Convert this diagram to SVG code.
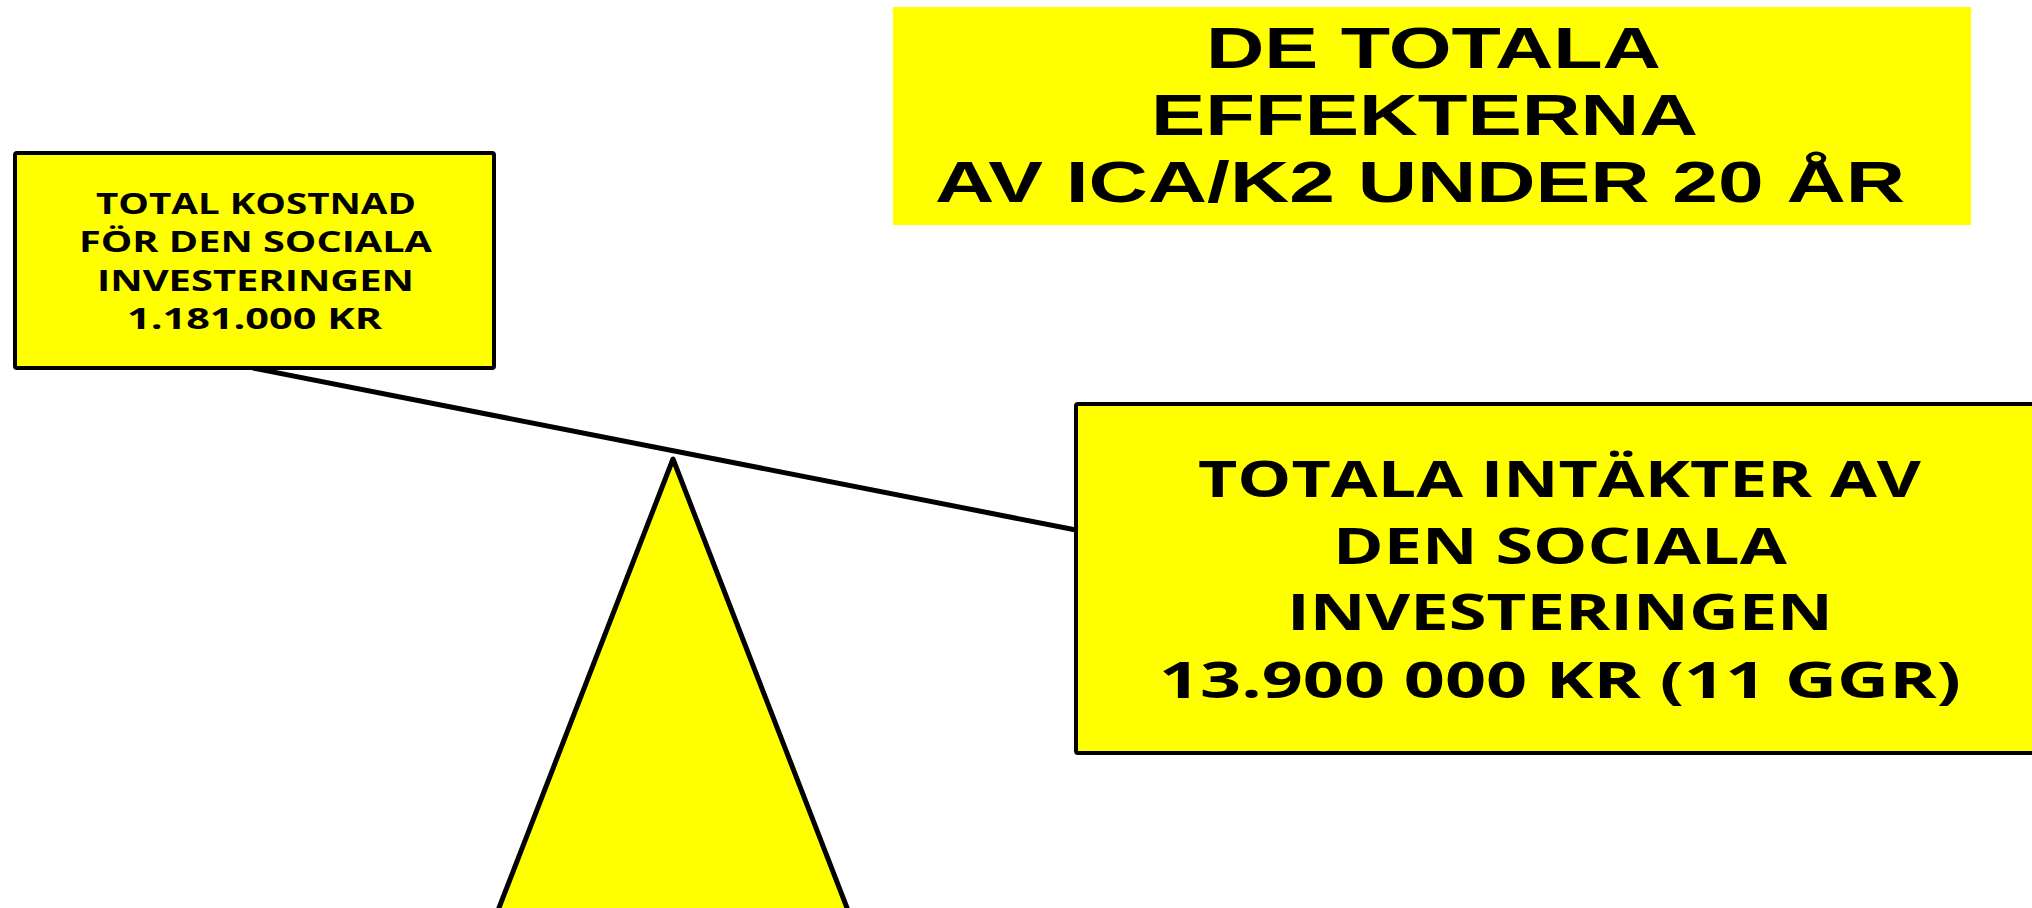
<svg xmlns="http://www.w3.org/2000/svg" width="2032" height="908" viewBox="0 0 2032 908">
<style>
.box{fill:#FFFF00;stroke:#000;stroke-width:4;stroke-linejoin:round}
.tri{fill:#FFFF00;stroke:#000;stroke-width:5;stroke-linejoin:round}
.title{fill:#FFFF00;stroke:none}
.t1{font-family:"Liberation Sans",Arial,sans-serif;font-weight:bold;font-size:57px;fill:#000}
.s{font-family:"Open Sans","Noto Sans",sans-serif;font-weight:bold;font-size:28px;fill:#000}
.b{font-family:"Open Sans","Noto Sans",sans-serif;font-weight:bold;font-size:51px;fill:#000}
.conn{stroke:#000;stroke-width:5;fill:none}
</style>
<rect width="2032" height="908" fill="#FFFFFF"/>
<g id="title">
<rect class="title" x="893" y="7" width="1078" height="218"/>
<text class="t1" x="1206" y="68" textLength="455" lengthAdjust="spacingAndGlyphs">DE TOTALA</text>
<text class="t1" x="1151" y="135" textLength="547" lengthAdjust="spacingAndGlyphs">EFFEKTERNA</text>
<text class="t1" x="935" y="202" textLength="970" lengthAdjust="spacingAndGlyphs">AV ICA/K2 UNDER 20 ÅR</text>
</g>
<g id="connectors">
<line class="conn" x1="253" y1="368" x2="1076" y2="530"/>
</g>
<g id="fulcrum">
<polygon class="tri" points="673,459 490,931 856,931"/>
</g>
<g id="cost">
<rect class="box" x="15" y="153" width="479" height="215" rx="2"/>
<text class="s" x="96" y="214" textLength="320" lengthAdjust="spacingAndGlyphs">TOTAL KOSTNAD</text>
<text class="s" x="79" y="252" textLength="353" lengthAdjust="spacingAndGlyphs">FÖR DEN SOCIALA</text>
<text class="s" x="97" y="291" textLength="317" lengthAdjust="spacingAndGlyphs">INVESTERINGEN</text>
<text class="s" x="127" y="329" textLength="255" lengthAdjust="spacingAndGlyphs">1.181.000 KR</text>
</g>
<g id="revenue">
<rect class="box" x="1076" y="404" width="1000" height="349" rx="2"/>
<text class="b" x="1198" y="497" textLength="723" lengthAdjust="spacingAndGlyphs">TOTALA INTÄKTER AV</text>
<text class="b" x="1333" y="564" textLength="454" lengthAdjust="spacingAndGlyphs">DEN SOCIALA</text>
<text class="b" x="1287" y="630" textLength="546" lengthAdjust="spacingAndGlyphs">INVESTERINGEN</text>
<text class="b" x="1159" y="698" textLength="802" lengthAdjust="spacingAndGlyphs">13.900 000 KR (11 GGR)</text>
</g>
</svg>
